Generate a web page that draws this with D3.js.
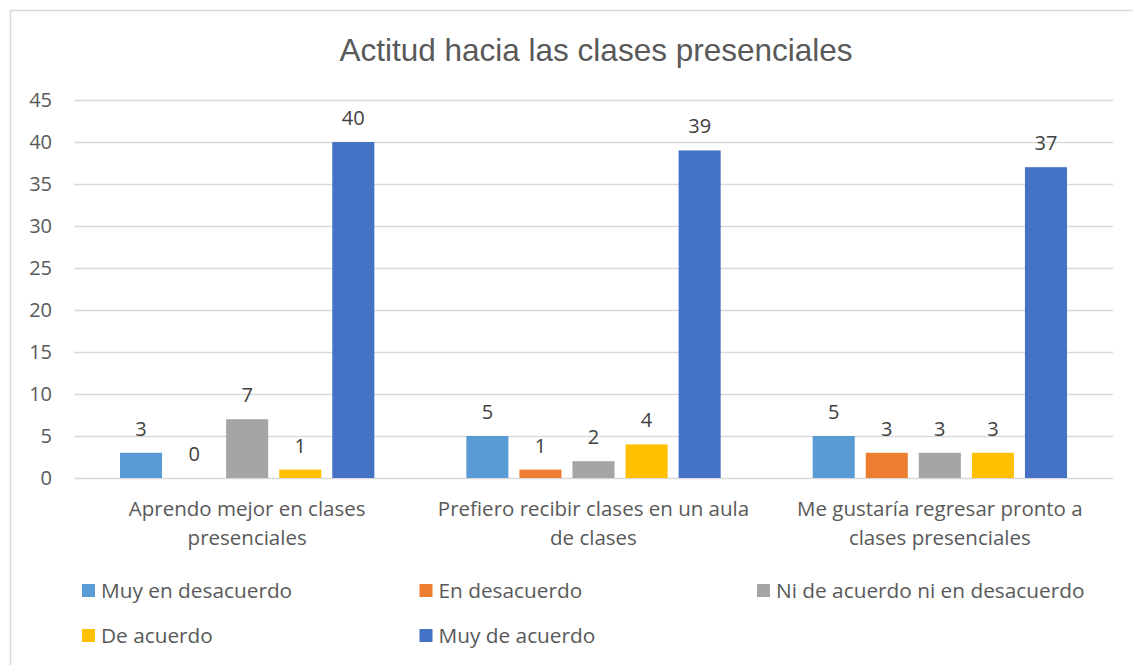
<!DOCTYPE html>
<html>
<head>
<meta charset="utf-8">
<script src="https://cdn.jsdelivr.net/npm/d3@7"></script>
<style>
    body { margin: 0; background: #fff; }
    svg { display: block; font-family: "Open Sans", "Liberation Sans", sans-serif; }
</style>
</head>
<body>
<div id="chart"></div>
<script>
var categories = [
    ["Aprendo mejor en clases", "presenciales"],
    ["Prefiero recibir clases en un aula", "de clases"],
    ["Me gustaría regresar pronto a", "clases presenciales"]
];
var series = ["Muy en desacuerdo", "En desacuerdo", "Ni de acuerdo ni en desacuerdo", "De acuerdo", "Muy de acuerdo"];
var colors = ["#5b9bd5", "#ed7d31", "#a5a5a5", "#ffc000", "#4472c4"];
var values = [
    [3, 0, 7, 1, 40],
    [5, 1, 2, 4, 39],
    [5, 3, 3, 3, 37]
];
var yTicks = [0, 5, 10, 15, 20, 25, 30, 35, 40, 45];

var width = 1133, height = 665;
var margin = { top: 100, left: 74, right: 20, bottom: 187 };

var svg = d3.select("#chart").append("svg")
    .attr("width", width)
    .attr("height", height);

// outer chart border
svg.append("rect")
    .attr("x", 10.5).attr("y", 10.5)
    .attr("width", 1140).attr("height", 700)
    .attr("fill", "none")
    .attr("stroke", "#d9d9d9")
    .attr("stroke-width", 1.5);

svg.append("text")
    .attr("x", 596).attr("y", 61)
    .attr("text-anchor", "middle")
    .attr("font-family", "'Liberation Sans', sans-serif")
    .attr("font-size", 31.5)
    .attr("fill", "#595959")
    .text("Actitud hacia las clases presenciales");

var y = d3.scaleLinear().domain([0, 45]).range([478, 100]);
var x0 = d3.scaleBand().domain(d3.range(categories.length)).range([margin.left, 1113]);
var bw = x0.bandwidth();
var x1 = d3.scaleBand().domain(d3.range(series.length))
    .range([46, bw - 46])
    .paddingInner(0.2075)
    .paddingOuter(0);

// gridlines + y labels
var yAxis = d3.axisLeft(y).tickValues(yTicks).tickSize(-(1113 - margin.left)).tickPadding(22);
var gy = svg.append("g")
    .attr("transform", "translate(" + margin.left + ",0)")
    .call(yAxis);
gy.select(".domain").remove();
gy.selectAll(".tick line").attr("stroke", "#d9d9d9").attr("stroke-width", 1.3);
gy.selectAll(".tick text")
    .attr("fill", "#595959")
    .attr("font-size", 20)
    .attr("font-family", "'Open Sans', sans-serif");

// bars
var groups = svg.append("g").selectAll("g")
    .data(values)
    .enter().append("g")
    .attr("transform", function (d, i) { return "translate(" + x0(i) + ",0)"; });

groups.selectAll("rect")
    .data(function (d) { return d; })
    .enter().append("rect")
    .attr("x", function (d, j) { return x1(j); })
    .attr("y", function (d) { return y(d); })
    .attr("width", x1.bandwidth())
    .attr("height", function (d) { return y(0) - y(d); })
    .attr("fill", function (d, j) { return colors[j]; });

groups.selectAll("text")
    .data(function (d) { return d; })
    .enter().append("text")
    .attr("x", function (d, j) { return x1(j) + x1.bandwidth() / 2; })
    .attr("y", function (d) { return y(d) - 17; })
    .attr("text-anchor", "middle")
    .attr("font-size", 20)
    .attr("fill", "#404040")
    .text(function (d) { return d; });

// category labels
var cat = svg.append("g").selectAll("text")
    .data(categories)
    .enter().append("text")
    .attr("x", function (d, i) { return x0(i) + bw / 2; })
    .attr("y", 516)
    .attr("text-anchor", "middle")
    .attr("font-size", 20.5)
    .attr("fill", "#595959");
cat.selectAll("tspan")
    .data(function (d) { return d; })
    .enter().append("tspan")
    .attr("x", function () { return d3.select(this.parentNode).attr("x"); })
    .attr("dy", function (d, k) { return k == 0 ? 0 : 29; })
    .text(function (d) { return d; });

// legend
var legend = svg.append("g").selectAll("g")
    .data(series)
    .enter().append("g")
    .attr("transform", function (d, i) {
        return "translate(" + (82 + (i % 3) * 337.5) + "," + (584 + Math.floor(i / 3) * 45) + ")";
    });
legend.append("rect")
    .attr("width", 13).attr("height", 13)
    .attr("fill", function (d, i) { return colors[i]; });
legend.append("text")
    .attr("x", 19).attr("y", 14)
    .attr("font-size", 20.8)
    .attr("fill", "#595959")
    .text(function (d) { return d; });
</script>
</body>
</html>
